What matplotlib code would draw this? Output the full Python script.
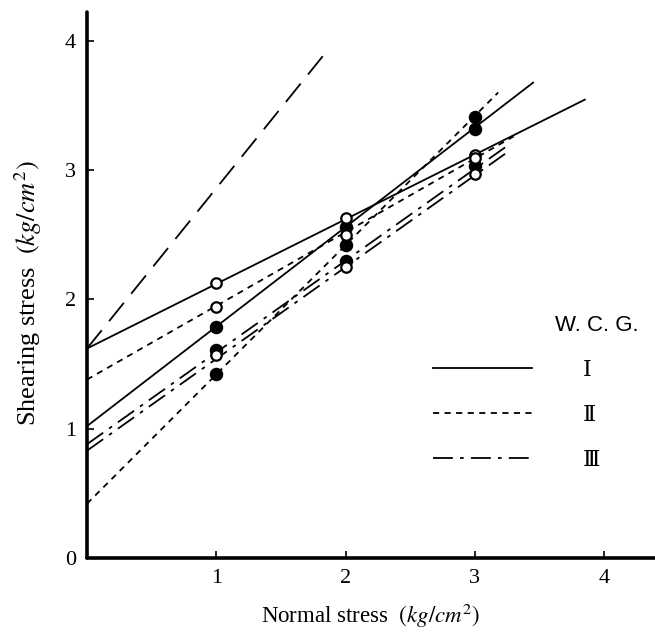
import matplotlib
matplotlib.use("Agg")
import matplotlib.pyplot as plt
import numpy as np

# ---- data ----
# fitted lines: (intercept, slope, x_end)
groups = ["Ⅰ", "Ⅱ", "Ⅲ"]
line_I_intercepts = [1.62, 1.02]
line_I_slopes = [0.50, 0.77]
line_I_ends = [3.85, 3.45]
line_II_intercepts = [1.38, 0.42]
line_II_slopes = [0.57, 1.00]
line_II_ends = [3.30, 3.18]
line_III_intercepts = [0.88, 0.83]
line_III_slopes = [0.71, 0.71]
line_III_ends = [3.28, 3.25]
longdash_intercept = 1.62
longdash_slope = 1.24
longdash_end = 1.85

open_x = [1, 1, 1, 2, 2, 2, 3, 3, 3]
open_y = [2.13, 1.94, 1.57, 2.63, 2.50, 2.25, 3.12, 3.09, 2.97]
filled_x = [1, 1, 1, 2, 2, 2, 3, 3, 3]
filled_y = [1.79, 1.61, 1.42, 2.56, 2.42, 2.30, 3.41, 3.32, 3.03]

x_ticks = [1, 2, 3, 4]
y_ticks = [0, 1, 2, 3, 4]

plt.rcParams['font.family'] = ['Liberation Serif', 'DejaVu Serif']
plt.rcParams['mathtext.fontset'] = 'stix'

fig = plt.figure(figsize=(6.55, 6.34), dpi=100)
ax = fig.add_axes([87/655, 76/634, 568/655, 546/634])
ax.set_xlim(0, 568/129.3)
ax.set_ylim(0, 546/129.3)

lw = 1.3
styles = {
    "I": dict(color='black', lw=lw, linestyle='-'),
    "II": dict(color='black', lw=lw, linestyle=(0, (3.4, 3.0))),
    "III": dict(color='black', lw=lw, linestyle=(0, (11, 4, 2, 4))),
}

handles = []
for key, ints, sls, ends in [("I", line_I_intercepts, line_I_slopes, line_I_ends),
                             ("II", line_II_intercepts, line_II_slopes, line_II_ends),
                             ("III", line_III_intercepts, line_III_slopes, line_III_ends)]:
    for i, (b, m, e) in enumerate(zip(ints, sls, ends)):
        xs = np.array([0.0, e])
        ln, = ax.plot(xs, b + m * xs, **styles[key], zorder=2, clip_on=False)
        if i == 0:
            handles.append(ln)

xs = np.array([0.0, longdash_end])
ax.plot(xs, longdash_intercept + longdash_slope * xs, color='black', lw=lw,
        linestyle=(0, (13, 6.5)), zorder=2)

ax.plot(filled_x, filled_y, 'o', ms=8.5, mfc='black', mec='black', mew=1.2, zorder=3)
ax.plot(open_x, open_y, 'o', ms=7.5, mfc='white', mec='black', mew=1.6, zorder=4)

for s in ['top', 'right']:
    ax.spines[s].set_visible(False)
for s in ['left', 'bottom']:
    ax.spines[s].set_linewidth(2.6)
    ax.spines[s].set_capstyle('round')

ax.set_xticks(x_ticks)
ax.set_yticks(y_ticks)
ax.tick_params(direction='in', length=5, width=1.2, labelsize=16, pad=8)

ax.set_xlabel(r'Normal stress  $(kg/cm^2)$', fontsize=16.5, labelpad=10)
ax.set_ylabel(r'Shearing stress  $(kg/cm^{2})$', fontsize=19)
ax.yaxis.set_label_coords(-0.076, 0.485)

leg = ax.legend(handles, groups, loc='center left', bbox_to_anchor=(0.574, 0.262),
                frameon=False, handlelength=4.45, handletextpad=2.3,
                labelspacing=1.03,
                prop={'family': ['DejaVu Serif', 'Noto Sans CJK JP'], 'size': 16})
ax.text(0.898, 0.425, 'W. C. G.', transform=ax.transAxes, ha='center', va='center',
        fontsize=16, family='Liberation Sans')

fig.savefig('out.png', dpi=100)
